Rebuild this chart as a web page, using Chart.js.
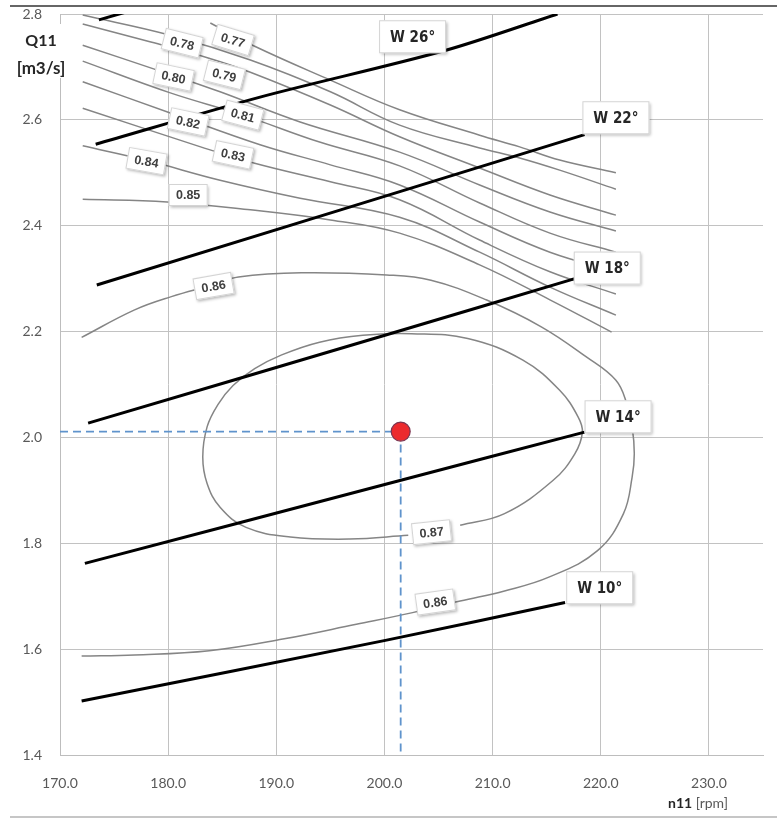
<!DOCTYPE html>
<html>
<head>
<meta charset="utf-8">
<script src="https://cdn.jsdelivr.net/npm/chart.js@4.4.1/dist/chart.umd.min.js"></script>
<style>
  html, body { margin: 0; padding: 0; background: #ffffff; }
  #wrap { position: relative; width: 777px; height: 818px; }
</style>
</head>
<body>
<div id="wrap"><canvas id="hill" width="777" height="818"></canvas></div>
<script>
// Axis ticks
const n11Ticks = [170, 180, 190, 200, 210, 220, 230];
const q11Ticks = [1.4, 1.6, 1.8, 2.0, 2.2, 2.4, 2.6, 2.8];

// Guide vane opening lines, points are [n11, Q11]
const w10 = [[172.0, 1.502], [200.2, 1.617], [216.7, 1.688]];
const w14 = [[172.3, 1.762], [200.2, 1.912], [218.5, 2.010]];
const w18 = [[172.6, 2.027], [200.2, 2.194], [217.6, 2.300]];
const w22 = [[173.4, 2.288], [218.5, 2.572]];
const w26 = [[173.3, 2.554], [188.5, 2.643], [205.6, 2.731], [216.0, 2.800]];
const w30 = [[173.6, 2.789], [176.5, 2.806]];

// Efficiency iso-lines, points are [n11, Q11]
const eta077 = [[183.9, 2.783], [187.9, 2.740], [195.0, 2.675], [201.4, 2.619], [208.8, 2.571], [212.5, 2.549], [216.2, 2.524], [221.4, 2.500]];
const eta078 = [[172.1, 2.798], [180.2, 2.760], [187.6, 2.713], [195.0, 2.653], [201.4, 2.590], [208.8, 2.547], [212.5, 2.528], [216.2, 2.505], [221.4, 2.469]];
const eta079 = [[172.1, 2.781], [178.4, 2.747], [183.7, 2.717], [187.6, 2.690], [195.0, 2.628], [201.4, 2.568], [208.8, 2.509], [215.3, 2.458], [221.4, 2.420]];
const eta080 = [[172.1, 2.741], [179.0, 2.694], [184.8, 2.653], [192.2, 2.596], [201.4, 2.539], [208.8, 2.477], [215.3, 2.426], [221.4, 2.390]];
const eta081 = [[172.1, 2.711], [180.2, 2.651], [186.9, 2.609], [194.0, 2.558], [201.4, 2.513], [208.8, 2.443], [215.3, 2.386], [221.4, 2.350]];
const eta082 = [[172.1, 2.672], [180.2, 2.613], [188.5, 2.553], [195.0, 2.515], [201.4, 2.477], [208.8, 2.407], [215.3, 2.350], [221.4, 2.313]];
const eta083 = [[172.1, 2.622], [183.0, 2.549], [188.0, 2.518], [195.0, 2.483], [201.4, 2.449], [208.8, 2.373], [215.3, 2.313], [221.4, 2.271]];
const eta084 = [[172.1, 2.551], [177.9, 2.524], [184.8, 2.486], [192.2, 2.452], [201.4, 2.416], [208.8, 2.350], [215.3, 2.284], [221.4, 2.231]];
const eta085 = [[172.1, 2.450], [179.9, 2.445], [187.6, 2.430], [195.0, 2.411], [201.4, 2.386], [208.8, 2.326], [215.3, 2.260], [221.0, 2.199]];
const eta086 = [
  [172.0, 2.189], [176.9, 2.241], [180.3, 2.266], [184.1, 2.288], [186.5, 2.303], [192.3, 2.311],
  [200.2, 2.307], [204.3, 2.297], [209.4, 2.260], [214.5, 2.209], [218.6, 2.153], [221.4, 2.108],
  [222.4, 2.064], [222.9, 2.020], [223.1, 1.969], [222.9, 1.925], [222.1, 1.856], [219.7, 1.786],
  [215.2, 1.736], [211.1, 1.710], [207.0, 1.691], [202.6, 1.669], [197.4, 1.647], [190.6, 1.619],
  [183.8, 1.597], [176.9, 1.589], [172.0, 1.587]
];
const eta087 = [
  [207.0, 1.834], [211.1, 1.856], [215.6, 1.919], [217.6, 1.969], [218.3, 2.010], [217.9, 2.039],
  [216.2, 2.089], [212.8, 2.146], [207.7, 2.187], [202.5, 2.196], [198.0, 2.193], [194.0, 2.180],
  [190.5, 2.156], [188.0, 2.130], [186.0, 2.098], [184.6, 2.062], [183.6, 2.020], [183.2, 1.963],
  [183.6, 1.913], [184.8, 1.868], [187.2, 1.830], [191.3, 1.812], [196.8, 1.808], [202.2, 1.815]
];

// Best efficiency operating point [n11, Q11]
const bestPoint = [201.5, 2.011];

// Tag texts with their anchor [n11, Q11] and tilt in degrees
const effTags = [
  { text: '0.77', at: [186.0, 2.751], tilt: 17 },
  { text: '0.78', at: [181.3, 2.745], tilt: 14 },
  { text: '0.79', at: [185.2, 2.685], tilt: 14 },
  { text: '0.80', at: [180.5, 2.681], tilt: 12 },
  { text: '0.81', at: [186.9, 2.609], tilt: 15 },
  { text: '0.82', at: [181.85, 2.596], tilt: 12 },
  { text: '0.83', at: [186.0, 2.534], tilt: 12 },
  { text: '0.84', at: [178.0, 2.522], tilt: 10 },
  { text: '0.85', at: [181.85, 2.458], tilt: 0 },
  { text: '0.86', at: [184.2, 2.286], tilt: -10 },
  { text: '0.87', at: [204.35, 1.821], tilt: -6 },
  { text: '0.86', at: [204.7, 1.689], tilt: -8 }
];
const vaneTags = [
  { text: 'W 26°', at: [202.6, 2.757] },
  { text: 'W 22°', at: [221.4, 2.604] },
  { text: 'W 18°', at: [220.6, 2.320] },
  { text: 'W 14°', at: [221.6, 2.039] },
  { text: 'W 10°', at: [219.9, 1.716] }
];

const toXY = arr => arr.map(p => ({ x: p[0], y: p[1] }));

function isoLine(pts) {
  return {
    data: toXY(pts), showLine: true, pointRadius: 0, pointHoverRadius: 0,
    borderColor: '#858585', borderWidth: 1.5, tension: 0.4, fill: false, order: 5
  };
}
function vaneLine(pts) {
  return {
    data: toXY(pts), showLine: true, pointRadius: 0, pointHoverRadius: 0,
    borderColor: '#000000', borderWidth: 3, tension: 0.3, fill: false, order: 3,
    borderCapStyle: 'butt'
  };
}
function dashLine(pts) {
  return {
    data: toXY(pts), showLine: true, pointRadius: 0, pointHoverRadius: 0,
    borderColor: '#5f93cc', borderWidth: 1.8, borderDash: [8, 5], fill: false, order: 2
  };
}

const datasets = [
  { data: toXY([bestPoint]), showLine: false, pointRadius: 9.5, pointHoverRadius: 9.5,
    backgroundColor: '#ec2a2e', borderColor: '#7b3450', borderWidth: 1.2, order: 0 },
  dashLine([[170, bestPoint[1]], bestPoint]),
  dashLine([bestPoint, [bestPoint[0], 1.4]]),
  vaneLine(w10), vaneLine(w14), vaneLine(w18), vaneLine(w22), vaneLine(w26), vaneLine(w30),
  isoLine(eta077), isoLine(eta078), isoLine(eta079), isoLine(eta080), isoLine(eta081),
  isoLine(eta082), isoLine(eta083), isoLine(eta084), isoLine(eta085), isoLine(eta086), isoLine(eta087)
];

function drawTag(ctx, px, py, text, font, w, h, tilt, color) {
  ctx.save();
  ctx.translate(px, py);
  ctx.rotate(tilt * Math.PI / 180);
  ctx.shadowColor = 'rgba(0,0,0,0.28)';
  ctx.shadowBlur = 3;
  ctx.shadowOffsetX = 1.5;
  ctx.shadowOffsetY = 1.5;
  ctx.fillStyle = '#ffffff';
  ctx.fillRect(-w / 2, -h / 2, w, h);
  ctx.shadowColor = 'rgba(0,0,0,0)';
  ctx.strokeStyle = '#d4d4d4';
  ctx.lineWidth = 1;
  ctx.strokeRect(-w / 2 + 0.5, -h / 2 + 0.5, w - 1, h - 1);
  ctx.fillStyle = color;
  ctx.font = font;
  ctx.textAlign = 'center';
  ctx.textBaseline = 'middle';
  ctx.fillText(text, 0, 1);
  ctx.restore();
}

const decorations = {
  id: 'decorations',
  beforeDraw(chart) {
    const ctx = chart.ctx;
    ctx.save();
    ctx.fillStyle = '#ffffff';
    ctx.fillRect(0, 0, chart.width, chart.height);
    ctx.restore();
  },
  afterDatasetsDraw(chart) {
    const { ctx, scales: { x, y } } = chart;
    effTags.forEach(t => {
      drawTag(ctx, x.getPixelForValue(t.at[0]), y.getPixelForValue(t.at[1]), t.text,
        'bold 12.5px "Liberation Sans", Arial, sans-serif', 39, 22, t.tilt, '#404040');
    });
    vaneTags.forEach(t => {
      drawTag(ctx, x.getPixelForValue(t.at[0]), y.getPixelForValue(t.at[1]), t.text,
        'bold 15px "Liberation Sans Narrow", "DejaVu Sans Condensed", sans-serif', 67, 33, 0, '#262626');
    });
  },
  afterDraw(chart) {
    const ctx = chart.ctx;
    ctx.save();
    // frame rules at top and bottom
    ctx.strokeStyle = '#666666';
    ctx.lineWidth = 2;
    ctx.beginPath(); ctx.moveTo(10, 6); ctx.lineTo(777, 6); ctx.stroke();
    ctx.strokeStyle = '#b3b3b3';
    ctx.lineWidth = 1.5;
    ctx.beginPath(); ctx.moveTo(10, 817); ctx.lineTo(777, 817); ctx.stroke();

    // Q11 axis title on a white patch
    ctx.fillStyle = '#ffffff';
    ctx.fillRect(10, 24, 60, 54);
    ctx.fillStyle = '#262626';
    ctx.textAlign = 'center';
    ctx.textBaseline = 'middle';
    ctx.font = 'bold 16px Lato, "Open Sans", sans-serif';
    ctx.fillText('Q11', 41, 41);
    ctx.font = 'bold 17px Lato, "Open Sans", sans-serif';
    ctx.fillText('[m3/s]', 41, 69);

    // n11 axis title
    ctx.textAlign = 'left';
    ctx.font = 'bold 14px Lato, "Open Sans", sans-serif';
    ctx.fillStyle = '#262626';
    ctx.fillText('n11', 668, 803);
    const w = ctx.measureText('n11').width;
    ctx.font = '14px Lato, "Open Sans", sans-serif';
    ctx.fillStyle = '#595959';
    ctx.fillText(' [rpm]', 668 + w, 803);
    ctx.restore();
  }
};

new Chart(document.getElementById('hill'), {
  type: 'scatter',
  data: { datasets },
  plugins: [decorations],
  options: {
    responsive: false,
    animation: false,
    devicePixelRatio: 1,
    layout: { padding: { left: 0, right: 14, top: 14, bottom: 0 } },
    plugins: { legend: { display: false }, tooltip: { enabled: false } },
    scales: {
      x: {
        type: 'linear', min: 170, max: 235,
        afterBuildTicks: s => { s.ticks = n11Ticks.map(v => ({ value: v })); },
        afterFit: s => { s.height = 63; s.paddingLeft = 0; s.paddingRight = 0; },
        ticks: {
          callback: v => Number(v).toFixed(1), autoSkip: false, maxRotation: 0,
          padding: 20, color: '#595959', font: { family: 'Lato, "Open Sans", sans-serif', size: 14 }
        },
        grid: { color: '#c2c2c2', lineWidth: 1, drawTicks: false },
        border: { color: '#bdbdbd', width: 1 }
      },
      y: {
        type: 'linear', min: 1.4, max: 2.8,
        afterBuildTicks: s => { s.ticks = q11Ticks.map(v => ({ value: v })); },
        afterFit: s => { s.width = 60; s.paddingTop = 0; s.paddingBottom = 0; },
        ticks: {
          callback: v => Number(v).toFixed(1), autoSkip: false,
          padding: 18, color: '#595959', font: { family: 'Lato, "Open Sans", sans-serif', size: 14 }
        },
        grid: { color: '#c2c2c2', lineWidth: 1, drawTicks: false },
        border: { color: '#bdbdbd', width: 1 }
      }
    }
  }
});
</script>
</body>
</html>
